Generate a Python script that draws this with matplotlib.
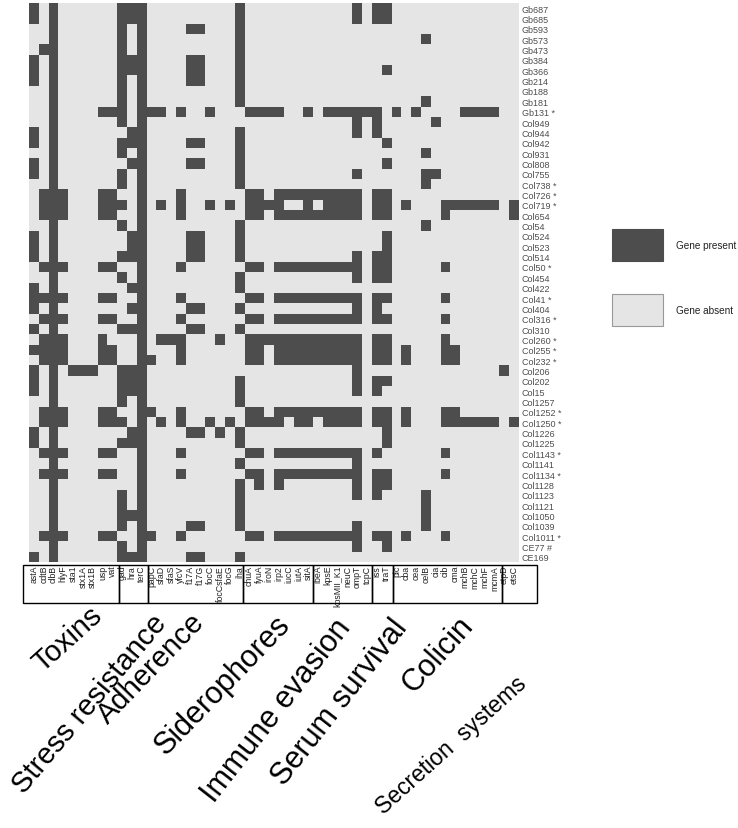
import matplotlib
matplotlib.use("Agg")
import matplotlib.pyplot as plt
import numpy as np
from matplotlib.colors import ListedColormap
from matplotlib.patches import Rectangle

plt.rcParams['font.family'] = ['Liberation Sans', 'DejaVu Sans']

W, H = 738, 829

# ---------------- data ----------------
group_names = ["Toxins", "Stress resistance", "Adherence", "Siderophores",
               "Immune evasion", "Serum survival", "Colicin", "Secretion  systems"]
toxins = ["astA", "cdtB", "clbB", "hlyF", "sta1", "stx1A", "stx1B", "usp", "vat"]
stress = ["gad", "hra", "terC"]
adherence = ["papC", "sfaD", "sfaS", "yfcV", "f17A", "f17G", "focC", "focCsfaE", "focG", "iha"]
siderophores = ["chuA", "fyuA", "iroN", "irp2", "iucC", "iutA", "sitA"]
immune = ["ibeA", "kpsE", "kpsMII_K1", "neuC", "ompT", "tcpC"]
serum = ["iss", "traT"]
colicin = ["pic", "cba", "cea", "celB", "cia", "cib", "cma", "mchB", "mchC", "mchF", "mcmA"]
secretion = ["etpD", "etsC"]
gene_groups = [toxins, stress, adherence, siderophores, immune, serum, colicin, secretion]

strains = ["Gb687", "Gb685", "Gb593", "Gb573", "Gb473", "Gb384", "Gb366", "Gb214",
           "Gb188", "Gb181", "Gb131 *", "Col949", "Col944", "Col942", "Col931",
           "Col808", "Col755", "Col738 *", "Col726 *", "Col719 *", "Col654", "Col54",
           "Col524", "Col523", "Col514", "Col50 *", "Col454", "Col422", "Col41 *",
           "Col404", "Col316 *", "Col310", "Col260 *", "Col255 *", "Col232 *",
           "Col206", "Col202", "Col15", "Col1257", "Col1252 *", "Col1250 *",
           "Col1226", "Col1225", "Col1143 *", "Col1141", "Col1134 *", "Col1128",
           "Col1123", "Col1121", "Col1050", "Col1039", "Col1011 *", "CE77 #", "CE169"]

# presence (1) / absence (0), grouped as: toxins stress adherence siderophores immune serum colicin secretion
presence = [
    "101000000 111 0000000001 0000000 000010 11 00000000000 00",  # Gb687
    "101000000 111 0000000001 0000000 000010 11 00000000000 00",  # Gb685
    "001000000 101 0000110001 0000000 000000 00 00000000000 00",  # Gb593
    "001000000 101 0000000001 0000000 000000 00 00010000000 00",  # Gb573
    "011000000 101 0000000001 0000000 000000 00 00000000000 00",  # Gb473
    "101000000 111 0000110001 0000000 000000 00 00000000000 00",  # Gb384
    "101000000 111 0000110001 0000000 000000 01 00000000000 00",  # Gb366
    "101000000 101 0000110001 0000000 000000 00 00000000000 00",  # Gb214
    "001000000 101 0000000001 0000000 000000 00 00000000000 00",  # Gb188
    "001000000 101 0000000001 0000000 000000 00 00010000000 00",  # Gb181
    "001000011 101 1101001000 1111001 011111 10 10100001111 00",  # Gb131
    "001000000 101 0000000000 0000000 000010 10 00001000000 00",  # Col949
    "101000000 011 0000000001 0000000 000010 10 00000000000 00",  # Col944
    "101000000 111 0000110001 0000000 000000 01 00000000000 00",  # Col942
    "001000000 101 0000000001 0000000 000000 00 00010000000 00",  # Col931
    "101000000 011 0000110001 0000000 000000 01 00000000000 00",  # Col808
    "101000000 101 0000000001 0000000 000010 00 00011000000 00",  # Col755
    "001000000 101 0000000001 0000000 000000 00 00010000000 00",  # Col738
    "011100011 001 0001000000 1101111 111110 11 00000000000 00",  # Col726
    "011100011 101 0101001010 1111001 011110 11 01000111111 01",  # Col719
    "011100011 001 0001000000 1101111 111110 11 00000100000 01",  # Col654
    "001000000 101 0000000001 0000000 000000 00 00010000000 00",  # Col54
    "101000000 011 0000110001 0000000 000000 01 00000000000 00",  # Col524
    "101000000 011 0000110001 0000000 000000 01 00000000000 00",  # Col523
    "101000000 111 0000110001 0000000 000010 11 00000000000 00",  # Col514
    "011100011 001 0001000000 1101111 111110 11 00000100000 00",  # Col50
    "001000000 101 0000000001 0000000 000010 11 00000000000 00",  # Col454
    "101000000 011 0000000001 0000000 000000 00 00000000000 00",  # Col422
    "111100011 001 0001000000 1101111 111110 11 00000100000 00",  # Col41
    "101000000 011 0000110001 0000000 000010 10 00000000000 00",  # Col404
    "011100011 001 0001000000 1101111 111110 11 00000100000 00",  # Col316
    "101000000 111 0000110001 0000000 000000 00 00000000000 00",  # Col310
    "011100010 001 0111000100 1111111 111110 11 00000100000 00",  # Col260
    "111100011 001 0001000000 1101111 111110 11 01000110000 00",  # Col255
    "011100011 001 1001000000 1101111 111110 11 01000110000 00",  # Col232
    "101011100 111 0000000000 0000000 000010 00 00000000000 10",  # Col206
    "101000000 111 0000000001 0000000 000010 11 00000000000 00",  # Col202
    "101000000 111 0000000001 0000000 000010 10 00000000000 00",  # Col15
    "001000000 101 0000000001 0000000 000000 00 00000000000 00",  # Col1257
    "011100011 001 1001000000 1101111 111110 11 01000110000 00",  # Col1252
    "011100011 101 0101001010 1111011 011110 11 01000111111 01",  # Col1250
    "101000000 011 0000110101 0000000 000000 01 00000000000 00",  # Col1226
    "101000000 111 0000000001 0000000 000000 01 00000000000 00",  # Col1225
    "011100011 001 0001000000 1101111 111110 10 00000100000 00",  # Col1143
    "001000000 001 0000000001 0000000 000010 00 00000000000 00",  # Col1141
    "011100011 001 0001000000 1101111 111110 11 00000100000 00",  # Col1134
    "001000000 001 0000000001 0101000 000010 11 00000000000 00",  # Col1128
    "001000000 101 0000000001 0000000 000010 10 00010000000 00",  # Col1123
    "001000000 101 0000000001 0000000 000000 00 00010000000 00",  # Col1121
    "001000000 111 0000000001 0000000 000000 00 00010000000 00",  # Col1050
    "001000000 101 0000110001 0000000 000010 00 00010000000 00",  # Col1039
    "011100011 001 1001000000 1101111 111110 11 01000100000 00",  # Col1011
    "001000000 101 0000000000 0000000 000010 01 00000000000 00",  # CE77
    "101000000 111 0000110001 0000000 000000 00 00000000000 00",  # CE169
]

legend_labels = ["Gene present", "Gene absent"]
present_color = "#4d4d4d"
absent_color = "#e5e5e5"

# ---------------- figure ----------------
genes = [g for grp in gene_groups for g in grp]
mat = np.array([[int(ch) for ch in row.replace(" ", "")] for row in presence])

fig = plt.figure(figsize=(W / 100, H / 100), dpi=100)


def fx(x):
    return x / W


def fy(y):
    return 1 - y / H


hx0, hx1, hy0, hy1 = 29, 519, 4, 563
ax = fig.add_axes([fx(hx0), fy(hy1), fx(hx1) - fx(hx0), fy(hy0) - fy(hy1)])
cmap = ListedColormap([absent_color, present_color])
ax.pcolormesh(np.arange(len(genes) + 1) - 0.5, np.arange(len(strains) + 1) - 0.5,
              mat, cmap=cmap, vmin=0, vmax=1)
ax.set_xlim(-0.5, len(genes) - 0.5)
ax.set_ylim(len(strains) - 0.5, -0.5)
ax.set_xticks(range(len(genes)))
ax.set_xticklabels(genes, rotation=90, fontsize=6.3, color="#222222")
ax.set_yticks(range(len(strains)))
ax.set_yticklabels(strains, fontsize=6.5, color="#4d4d4d")
ax.yaxis.tick_right()
ax.tick_params(length=0, pad=2)
for sp in ax.spines.values():
    sp.set_visible(False)

# group boxes under the gene labels
box_edges = [23, 118.7, 147.7, 243.3, 313.3, 372.3, 392.7, 501.7, 537.3]
by0, by1 = 566, 604
for i in range(len(box_edges) - 1):
    x0, x1 = box_edges[i], box_edges[i + 1]
    fig.patches.append(Rectangle((fx(x0), fy(by1)), fx(x1) - fx(x0), fy(by0) - fy(by1),
                                 transform=fig.transFigure, fill=False,
                                 edgecolor="black", linewidth=1.0, zorder=5))

# rotated group titles (baseline end anchor, angle, size)
anchors = [(104, 618, 42, 21), (168, 624, 50, 21), (206, 624, 46, 21), (291, 626, 46, 22),
           (352, 628, 52, 22), (408, 628, 52, 22), (474, 626, 48, 22), (528, 686, 42, 16.5)]
for name, (x, y, rot, fs) in zip(group_names, anchors):
    fig.text(fx(x), fy(y), name, rotation=rot, rotation_mode="anchor",
             ha="right", va="baseline", fontsize=fs, color="black")

# legend
leg_items = [(230, present_color, present_color), (295, absent_color, "#999999")]
for (ytop, fc, ec), lab in zip(leg_items, legend_labels):
    fig.patches.append(Rectangle((fx(612), fy(ytop + 32)), fx(663) - fx(612), fy(ytop) - fy(ytop + 32),
                                 transform=fig.transFigure, facecolor=fc, edgecolor=ec,
                                 linewidth=0.8))
    fig.text(fx(676), fy(ytop + 16), lab, ha="left", va="center", fontsize=7.2, color="#222222")

fig.savefig("out.png", dpi=100)
